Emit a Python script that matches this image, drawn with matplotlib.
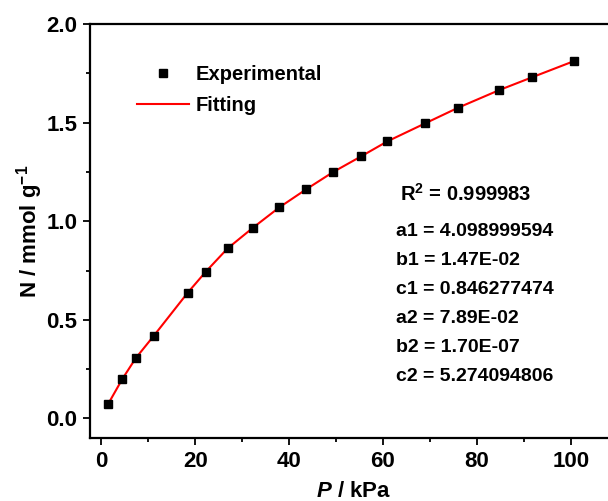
import numpy as np
import matplotlib as mpl
mpl.use('Agg')
import matplotlib.pyplot as plt
from matplotlib.ticker import MultipleLocator

# pressure (kPa) and uptake (mmol/g)
pressure = [1.5, 4.5, 7.4, 11.2, 18.4, 22.3, 26.9, 32.3, 37.9, 43.7, 49.4,
            55.4, 60.9, 69.0, 75.9, 84.7, 91.8, 100.6]
uptake = [0.074, 0.200, 0.307, 0.419, 0.637, 0.745, 0.862, 0.967, 1.070,
          1.163, 1.250, 1.330, 1.405, 1.497, 1.575, 1.665, 1.731, 1.812]
# fitted curve (follows the experimental points closely)
fit_p = pressure
fit_n = uptake

fit_text = ['a1 = 4.098999594', 'b1 = 1.47E-02', 'c1 = 0.846277474',
            'a2 = 7.89E-02', 'b2 = 1.70E-07', 'c2 = 5.274094806']

plt.rcParams['font.family'] = ['Liberation Sans', 'DejaVu Sans']
plt.rcParams['font.weight'] = 'bold'
plt.rcParams['axes.labelweight'] = 'bold'
plt.rcParams['mathtext.fontset'] = 'custom'
plt.rcParams['mathtext.rm'] = 'Liberation Sans:bold'
plt.rcParams['mathtext.it'] = 'Liberation Sans:bold:italic'
plt.rcParams['mathtext.bf'] = 'Liberation Sans:bold'

fig = plt.figure(figsize=(6.08, 5.01), dpi=100)
ax = fig.add_axes([0.148, 0.1257, 0.868, 0.826])

ax.plot(fit_p, fit_n, color='red', lw=1.5, label='Fitting', zorder=2)
ax.plot(pressure, uptake, ls='none', marker='s', ms=6, color='black',
        label='Experimental', zorder=3)

ax.set_xlim(-2.4, 110)
ax.set_ylim(-0.1, 2.0)
ax.xaxis.set_major_locator(MultipleLocator(20))
ax.xaxis.set_minor_locator(MultipleLocator(10))
ax.yaxis.set_major_locator(MultipleLocator(0.5))
ax.yaxis.set_minor_locator(MultipleLocator(0.25))
ax.yaxis.set_major_formatter(mpl.ticker.FormatStrFormatter('%.1f'))
ax.tick_params(which='both', direction='out', width=1.3, labelsize=16, top=False, right=False)
ax.tick_params(which='major', length=5, pad=4)
ax.tick_params(which='minor', length=3)
for s in ax.spines.values():
    s.set_linewidth(1.6)

ax.set_xlabel('$P$ / kPa', fontsize=16, labelpad=6.5)
ax.set_ylabel('N / mmol g$^{-1}$', fontsize=16, labelpad=1)

h, l = ax.get_legend_handles_labels()
ax.legend(h[::-1], l[::-1], loc='upper left', bbox_to_anchor=(0.055, 0.945),
          frameon=False, fontsize=14.5, handlelength=2.6, handletextpad=0.3,
          labelspacing=0.6)

ax.text(0.588, 0.574, 'R$^2$ = 0.999983', transform=ax.transAxes, fontsize=14.5)
for i, t in enumerate(fit_text):
    ax.text(0.58, 0.487 - i * 0.070, t, transform=ax.transAxes, fontsize=14)

fig.savefig('out.png', dpi=100)
